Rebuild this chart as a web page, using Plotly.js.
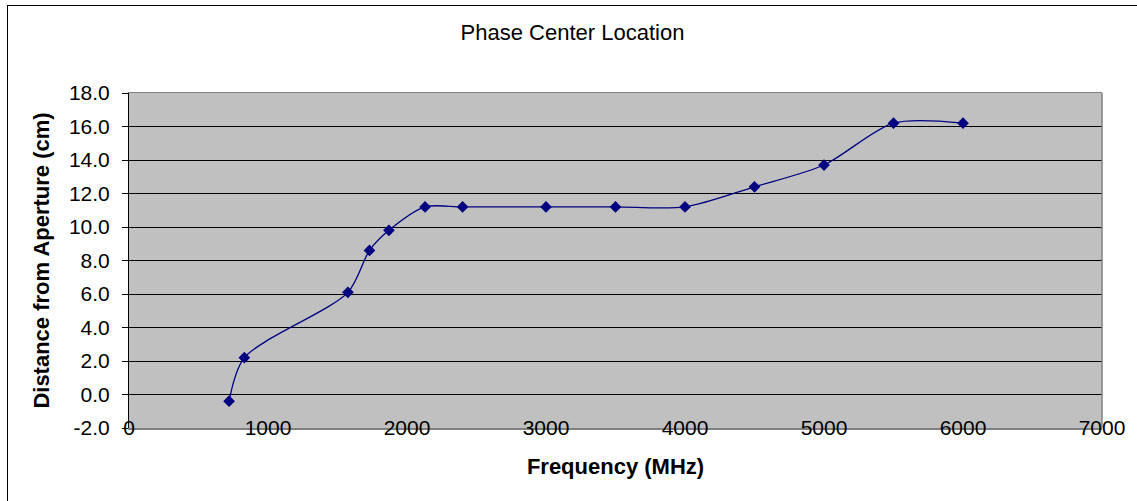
<!DOCTYPE html>
<html>
<head>
<meta charset="utf-8">
<script src="https://cdn.plot.ly/plotly-3.0.1.min.js"></script>
<style>
html,body{margin:0;padding:0;background:#fff;width:1137px;height:501px;overflow:hidden;}
#frame{position:absolute;left:7px;top:5px;width:1130px;height:496px;border-left:1px solid #000;border-top:1px solid #000;box-sizing:border-box;}
#chart{position:absolute;left:0;top:0;width:1129px;height:495px;}
</style>
</head>
<body>
<div id="frame"><div id="chart"></div></div>
<script>
const frequency = [720, 830, 1575, 1730, 1870, 2130, 2400, 3000, 3500, 4000, 4500, 5000, 5500, 6000];
const distance = [-0.4, 2.2, 6.1, 8.6, 9.8, 11.2, 11.2, 11.2, 11.2, 11.2, 12.4, 13.7, 16.2, 16.2];
const xTickVals = [0, 1000, 2000, 3000, 4000, 5000, 6000, 7000];
const yTickVals = [-2, 0, 2, 4, 6, 8, 10, 12, 14, 16, 18];
const yTickText = yTickVals.map(v => v.toFixed(1));

const font = 'Arial, "Liberation Sans", sans-serif';

const trace = {
  x: frequency, y: distance,
  type: 'scatter', mode: 'lines+markers',
  line: {color: '#000080', width: 1.3, shape: 'spline', smoothing: 0.8},
  marker: {symbol: 'diamond', size: 9, color: '#000080'},
  showlegend: false, hoverinfo: 'x+y'
};

const layout = {
  width: 1129, height: 495,
  margin: {l: 121, r: 35, t: 87, b: 73},
  paper_bgcolor: 'rgba(0,0,0,0)',
  plot_bgcolor: '#C0C0C0',
  title: {text: 'Phase Center Location', font: {family: font, size: 22, color: '#000'}, x: 0.5, xanchor: 'center', y: 0.946, yanchor: 'middle'},
  xaxis: {
    range: [0, 7000], tickvals: xTickVals, ticktext: xTickVals.map(String),
    showgrid: false, zeroline: false,
    showline: true, linecolor: '#808080', linewidth: 1.5, mirror: true,
    ticks: '', ticklabelstandoff: -20,
    tickfont: {family: font, size: 21, color: '#000'},
    title: {text: 'Frequency (MHz)', font: {family: font, size: 22, color: '#000', weight: 'bold'}, standoff: 21}
  },
  xaxis2: {
    range: [0, 7000], tickvals: xTickVals, overlaying: 'x', anchor: 'free', position: 0.1,
    showgrid: false, zeroline: false, showline: true, linecolor: '#000', linewidth: 1,
    ticks: 'outside', ticklen: 5, tickcolor: '#000', showticklabels: false
  },
  yaxis: {
    range: [-2, 18], tickvals: yTickVals, ticktext: yTickText,
    showgrid: true, gridcolor: '#000', gridwidth: 1, zeroline: false,
    showline: true, linecolor: '#000', linewidth: 1,
    ticks: 'outside', ticklen: 6, tickcolor: '#000', ticklabelstandoff: 8,
    tickfont: {family: font, size: 21, color: '#000'},
    title: {text: 'Distance from Aperture (cm)', font: {family: font, size: 22, color: '#000', weight: 'bold'}, standoff: 13}
  },
  shapes: [
    {type: 'line', xref: 'paper', yref: 'paper', x0: 1, x1: 1, y0: 0, y1: 1, line: {color: '#808080', width: 1.5}}
  ]
};

Plotly.newPlot('chart', [trace], layout, {staticPlot: true, displayModeBar: false});
</script>
</body>
</html>
